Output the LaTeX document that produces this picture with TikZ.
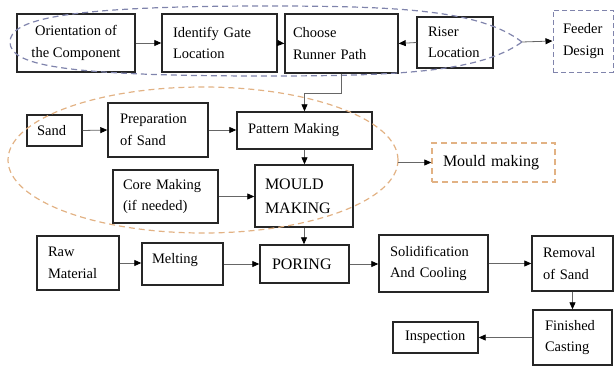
\documentclass[tikz,border=0pt]{standalone}
\usepackage{fontspec}
\setmainfont{Liberation Serif}
\usetikzlibrary{arrows.meta}
\definecolor{bluedash}{RGB}{128,132,172}
\definecolor{orangedash}{RGB}{226,178,132}
\begin{document}
\begin{tikzpicture}[x=1pt,y=-1pt,
  box/.style={draw=black!85, line width=1.4pt, inner sep=0pt, align=left,
    font=\fontsize{14.5}{21.5}\selectfont},
  pad/.style 2 args={inner xsep=#1, text width=#2},
  bigbox/.style={box, font=\fontsize{16}{24}\selectfont},
  arr/.style={draw=black!60, line width=0.8pt,
    -{Triangle[length=7pt,width=6pt,color=black]}},
  bluedsh/.style={draw=bluedash, line width=1.2pt, dash pattern=on 6pt off 4pt},
  orangedsh/.style={draw=orangedash, line width=1.2pt, dash pattern=on 6pt off 4pt}]
\useasboundingbox (0,0) rectangle (615,367);
% top row
\node[box, minimum width=118pt, minimum height=58pt, align=center] (o1) at (76,43) {Orientation of\\the Component};
\node[box, pad={11pt}{93pt}, minimum width=115pt, minimum height=58pt] (o2) at (219.5,43) {Identify Gate\\Location};
\node[box, pad={8pt}{97pt}, minimum width=113pt, minimum height=59pt] (o3) at (341.5,43.5) {Choose\\Runner Path};
\node[box, pad={11pt}{54pt}, minimum width=76pt, minimum height=51pt] (o4) at (455,42.5) {Riser\\Location};
\node[box, pad={10pt}{40pt}, draw=bluedash, line width=1pt, dash pattern=on 5pt off 3pt, minimum width=60pt, minimum height=62pt] (feeder) at (583,41) {Feeder\\Design};
% middle
\node[box, pad={10pt}{35pt}, minimum width=55pt, minimum height=31pt] (sand) at (54.5,130.5) {Sand};
\node[box, pad={12pt}{76pt}, minimum width=100pt, minimum height=54pt] (prep) at (158,130) {Preparation\\of Sand};
\node[box, pad={11pt}{113pt}, minimum width=135pt, minimum height=37pt] (pattern) at (304.5,130.5) {Pattern Making};
\node[box, pad={10pt}{85pt}, minimum width=105pt, minimum height=53pt] (core) at (165.5,196.5) {Core Making\\(if needed)};
\node[bigbox, pad={10pt}{78pt}, minimum width=98pt, minimum height=62pt] (mould) at (304,196) {MOULD\\MAKING};
\node[bigbox, pad={11pt}{101pt}, draw=orangedash, line width=1.4pt, dash pattern=on 6pt off 4pt, minimum width=123pt, minimum height=39pt] (mm) at (493.5,162.5) {Mould making};
% bottom
\node[box, pad={11pt}{60pt}, minimum width=82pt, minimum height=54pt] (raw) at (78,263) {Raw\\Material};
\node[box, pad={10pt}{61pt}, minimum width=81pt, minimum height=42pt] (melt) at (182.5,264) {\raisebox{12pt}{Melting}};
\node[bigbox, pad={12pt}{65pt}, minimum width=89pt, minimum height=38pt] (poring) at (304.5,264) {PORING};
\node[box, pad={11pt}{87pt}, minimum width=109pt, minimum height=57pt] (solid) at (433.5,263.5) {Solidification\\And Cooling};
\node[box, pad={11pt}{59pt}, minimum width=81pt, minimum height=55pt] (removal) at (572.5,263.5) {Removal\\of Sand};
\node[box, pad={12pt}{55pt}, minimum width=79pt, minimum height=55pt] (finished) at (572.5,337.5) {Finished\\Casting};
\node[box, pad={12pt}{61pt}, minimum width=85pt, minimum height=31pt] (inspect) at (435.5,337.5) {Inspection};
% dashed groupings
\draw[bluedsh] (522,42) .. controls (480,10) and (400,6) .. (266,6)
  .. controls (60,6) and (10,20) .. (10,42)
  .. controls (10,65) and (60,76) .. (266,76)
  .. controls (400,76) and (480,72) .. (522,42);
\coordinate (btip) at (522,42);
\draw[orangedsh] (203,160) ellipse [x radius=195, y radius=73];
\coordinate (otip) at (398,162.5);
% arrows
\draw[arr] (o1.east) -- (o2.west);
\draw[arr] (o2.east) -- (o3.west);
\draw[arr] (o4.west) -- (o3.east);
\draw[arr] (btip) -- (feeder.west);
\draw[arr] (o3.south) -- ++(0,20) -| (pattern.north);
\draw[arr] (sand.east) -- (prep.west);
\draw[arr] (prep.east) -- (prep.east -| pattern.west);
\draw[arr] (pattern.south) -- (pattern.south |- mould.north);
\draw[arr] (core.east) -- (core.east -| mould.west);
\draw[arr] (otip) -- (mm.west);
\draw[arr] (mould.south) -- (mould.south |- poring.north);
\draw[arr] (raw.east) -- (raw.east -| melt.west);
\draw[arr] (melt.east) -- (poring.west);
\draw[arr] (poring.east) -- (poring.east -| solid.west);
\draw[arr] (solid.east) -- (solid.east -| removal.west);
\draw[arr] (removal.south) -- (finished.north);
\draw[arr] (finished.west) -- (finished.west -| inspect.east);
\end{tikzpicture}
\end{document}
